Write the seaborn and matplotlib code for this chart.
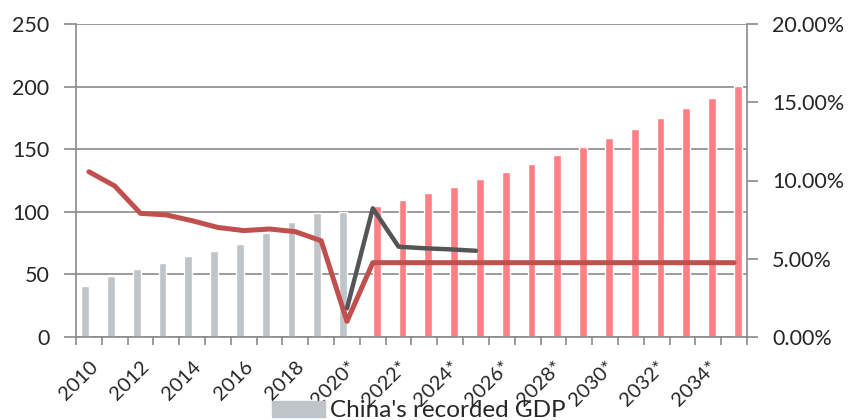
import pandas as pd
import seaborn as sns
import matplotlib.pyplot as plt
from matplotlib.patches import Patch
from matplotlib.ticker import FixedLocator, PercentFormatter

# Dados
years = [str(y) for y in range(2010, 2020)] + [f"{y}*" for y in range(2020, 2036)]
recorded_gdp = [41, 49, 54, 59, 64.5, 69, 74.5, 83, 92, 99, 100]
forecast_gdp = [104.6, 109.4, 114.8, 120, 126, 132, 138, 145, 152, 159,
                166.4, 174.7, 182.7, 191, 200.5]
growth_red = [10.56, 9.65, 7.9, 7.8, 7.43, 7.0, 6.8, 6.9, 6.73, 6.15, 1.0] + [4.75] * 15
growth_gray_years = ["2020*", "2021*", "2022*", "2023*", "2024*", "2025*"]
growth_gray = [1.83, 8.22, 5.77, 5.67, 5.6, 5.51]

sns.set_style("white")
plt.rcParams['font.family'] = ['Lato', 'DejaVu Sans']

grid_c = "#8a8a8a"

bars = pd.DataFrame({
    "year": years,
    "gdp": recorded_gdp + forecast_gdp,
    "kind": ["recorded"] * len(recorded_gdp) + ["forecast"] * len(forecast_gdp),
})

fig = plt.figure(figsize=(8.53, 4.2), dpi=100)
ax = fig.add_axes([76 / 853, 1 - 337 / 420, (747 - 76) / 853, (337 - 24) / 420])

sns.barplot(data=bars, x="year", y="gdp", hue="kind", order=years,
            hue_order=["recorded", "forecast"],
            palette={"recorded": "#BFC4C8", "forecast": "#FF7F84"},
            width=0.6, dodge=True, saturation=1, legend=False, ax=ax)

ax.set_ylim(0, 250)
ax.set_xlim(-0.5, len(years) - 0.5)
ax.set_yticks([0, 50, 100, 150, 200, 250])
ax.set_axisbelow(True)
ax.grid(axis="y", color=grid_c, linewidth=1.2)
ax.grid(axis="x", visible=False)
ax.set_xlabel("")
ax.set_ylabel("")

# ticks do eixo x nas fronteiras, rótulos a cada 2 anos
ax.xaxis.set_major_locator(FixedLocator([i - 0.5 for i in range(len(years) + 1)]))
ax.xaxis.set_minor_locator(FixedLocator(list(range(0, len(years), 2))))
ax.set_xticklabels([], minor=False)
ax.set_xticklabels([years[i] for i in range(0, len(years), 2)], minor=True,
                   rotation=45, ha="right", rotation_mode="anchor", fontsize=14.5)
ax.tick_params(axis="x", which="major", length=6, width=1.2, color=grid_c, direction="out", bottom=True)
ax.tick_params(axis="x", which="minor", length=0, pad=15, bottom=True)
ax.tick_params(axis="y", length=9, width=1.2, color=grid_c, labelsize=15.5, pad=10, left=True)

for s in ["top", "right"]:
    ax.spines[s].set_visible(False)
for s in ["left", "bottom"]:
    ax.spines[s].set_color(grid_c)
    ax.spines[s].set_linewidth(1.2)

# eixo secundário com taxas de crescimento
ax2 = ax.twinx()
pos = {y: i for i, y in enumerate(years)}
sns.lineplot(x=[pos[y] for y in growth_gray_years], y=growth_gray, ax=ax2,
             color="#555555", linewidth=3.2, solid_capstyle="round", solid_joinstyle="round")
sns.lineplot(x=list(range(len(years))), y=growth_red, ax=ax2,
             color="#C0504D", linewidth=3.6, solid_capstyle="round", solid_joinstyle="round")
ax2.set_ylim(0, 20)
ax2.set_yticks([0, 5, 10, 15, 20])
ax2.yaxis.set_major_formatter(PercentFormatter(decimals=2))
ax2.tick_params(axis="y", length=8, width=1.2, color=grid_c, labelsize=15.5, pad=10, right=True)
ax2.set_xlim(-0.5, len(years) - 0.5)
for s in ["top", "left", "bottom"]:
    ax2.spines[s].set_visible(False)
ax2.spines["right"].set_color(grid_c)
ax2.spines["right"].set_linewidth(1.2)
ax2.grid(False)

fig.legend(handles=[Patch(color="#BFC4C8", label="China's recorded GDP")],
           loc="lower left", bbox_to_anchor=(272 / 853, -0.003),
           frameon=False, fontsize=17.5, handlelength=2.2, handleheight=0.65,
           handletextpad=0.2, borderpad=0, borderaxespad=0)

plt.savefig("out.png", dpi=100)
